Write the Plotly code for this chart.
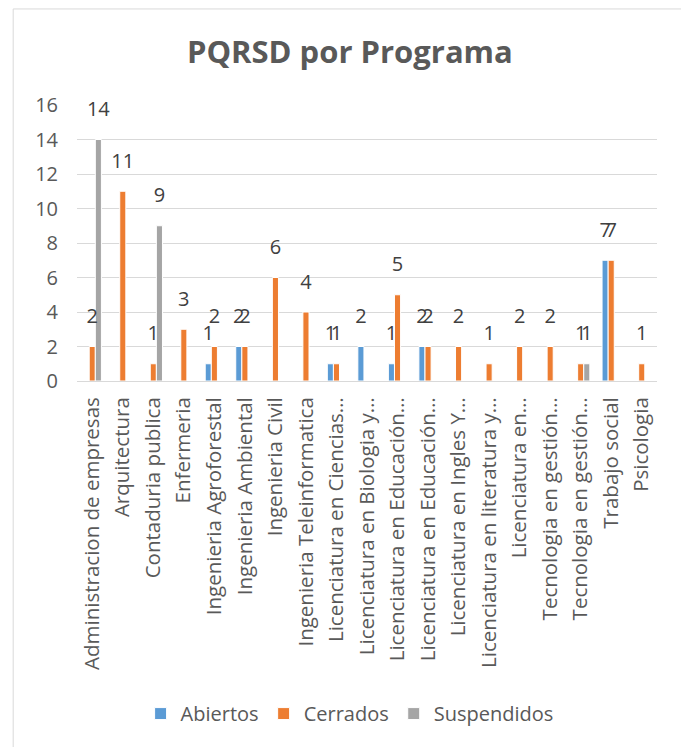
import plotly.graph_objects as go

GRIS_TEXTO = "#595959"
AZUL = "#5B9BD5"
NARANJA = "#ED7D31"
GRIS = "#A5A5A5"
FUENTE = "Open Sans, sans-serif"

programas = [
    "Administracion de empresas", "Arquitectura", "Contaduria publica",
    "Enfermeria", "Ingenieria Agroforestal", "Ingenieria Ambiental",
    "Ingenieria Civil", "Ingenieria Teleinformatica",
    "Licenciatura en Ciencias…", "Licenciatura en Biologia y…",
    "Licenciatura en Educación…", "Licenciatura en Educación…",
    "Licenciatura en Ingles Y…", "Licenciatura en literatura y…",
    "Licenciatura en…", "Tecnologia en gestión…", "Tecnologia en gestión…",
    "Trabajo social", "Psicologia",
]
abiertos    = [None, None, None, None, 1, 2, None, None, 1, 2, 1, 2, None, None, None, None, None, 7, None]
cerrados    = [2, 11, 1, 3, 2, 2, 6, 4, 1, None, 5, 2, 2, 1, 2, 2, 1, 7, 1]
suspendidos = [14, None, 9, None, None, None, None, None, None, None, None, None, None, None, None, None, 1, None, None]

posiciones = list(range(len(programas)))
ticks_y = list(range(0, 17, 2))

series = [
    ("Abiertos", abiertos, AZUL),
    ("Cerrados", cerrados, NARANJA),
    ("Suspendidos", suspendidos, GRIS),
]


def _etiquetas(valores):
    return ["" if v is None else str(v) for v in valores]


fig = go.Figure()
for nombre, valores, color in series:
    fig.add_trace(go.Bar(
        x=posiciones, y=valores, name=nombre,
        marker=dict(color=color, line=dict(color="white", width=1)),
    ))
# etiquetas de datos, agrupadas igual que las barras
for nombre, valores, color in series:
    fig.add_trace(go.Scatter(
        x=posiciones, y=valores, name=nombre,
        mode="markers+text",
        marker=dict(size=28, color="rgba(0,0,0,0)"),
        text=_etiquetas(valores),
        textposition="top center",
        textfont=dict(size=20, color="#404040", family=FUENTE),
        cliponaxis=False, showlegend=False, hoverinfo="skip",
    ))

fig.update_layout(
    width=681, height=739,
    barmode="group", bargap=0.4, bargroupgap=0,
    scattermode="group", scattergap=0.4,
    plot_bgcolor="white", paper_bgcolor="white",
    margin=dict(l=69, r=32, t=97, b=366),
    title=dict(
        text="<b>PQRSD por Programa</b>", x=0.502, xanchor="center",
        y=0.94, yanchor="middle",
        font=dict(size=31, color=GRIS_TEXTO, family=FUENTE),
    ),
    font=dict(family=FUENTE, color=GRIS_TEXTO, size=20),
    legend=dict(
        orientation="h", x=0.47, xanchor="center", y=-1.205, yanchor="middle",
        font=dict(size=20, color=GRIS_TEXTO, family=FUENTE),
    ),
    showlegend=True,
)
fig.update_xaxes(
    tickmode="array", tickvals=posiciones, ticktext=programas,
    tickangle=-90, range=[-0.5, len(programas) - 0.5],
    showgrid=False, showline=True, linecolor="#D9D9D9", linewidth=1,
    tickfont=dict(size=20.5, color=GRIS_TEXTO, family=FUENTE),
    ticks="", ticklabelstandoff=7, fixedrange=True,
)
fig.update_yaxes(
    range=[0, 16], tickvals=ticks_y,
    showgrid=True, gridcolor="#D9D9D9", gridwidth=1,
    zeroline=False, showline=False,
    tickfont=dict(size=20, color=GRIS_TEXTO, family=FUENTE),
    ticks="", ticklen=0, ticklabelstandoff=18,
)
fig.add_shape(
    type="rect", xref="paper", yref="paper",
    x0=-0.110, x1=1.048, y0=-1.348, y1=1.348,
    line=dict(color="#D9D9D9", width=1), fillcolor="rgba(0,0,0,0)",
    layer="below",
)

fig.write_html("out.html")
